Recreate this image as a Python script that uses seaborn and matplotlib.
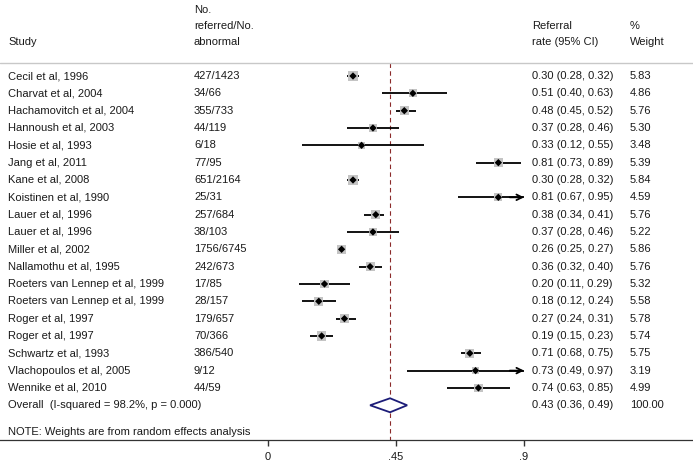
import numpy as np
import matplotlib
matplotlib.use("Agg")
import matplotlib.pyplot as plt
import matplotlib.transforms as mtransforms
import seaborn as sns
import pandas as pd

studies = ["Cecil et al, 1996", "Charvat et al, 2004", "Hachamovitch et al, 2004",
           "Hannoush et al, 2003", "Hosie et al, 1993", "Jang et al, 2011",
           "Kane et al, 2008", "Koistinen et al, 1990", "Lauer et al, 1996",
           "Lauer et al, 1996", "Miller et al, 2002", "Nallamothu et al, 1995",
           "Roeters van Lennep et al, 1999", "Roeters van Lennep et al, 1999",
           "Roger et al, 1997", "Roger et al, 1997", "Schwartz et al, 1993",
           "Vlachopoulos et al, 2005", "Wennike et al, 2010"]
counts = ["427/1423", "34/66", "355/733", "44/119", "6/18", "77/95", "651/2164",
          "25/31", "257/684", "38/103", "1756/6745", "242/673", "17/85", "28/157",
          "179/657", "70/366", "386/540", "9/12", "44/59"]
rate = [0.30, 0.51, 0.48, 0.37, 0.33, 0.81, 0.30, 0.81, 0.38, 0.37, 0.26, 0.36,
        0.20, 0.18, 0.27, 0.19, 0.71, 0.73, 0.74]
lo = [0.28, 0.40, 0.45, 0.28, 0.12, 0.73, 0.28, 0.67, 0.34, 0.28, 0.25, 0.32,
      0.11, 0.12, 0.24, 0.15, 0.68, 0.49, 0.63]
hi = [0.32, 0.63, 0.52, 0.46, 0.55, 0.89, 0.32, 0.95, 0.41, 0.46, 0.27, 0.40,
      0.29, 0.24, 0.31, 0.23, 0.75, 0.97, 0.85]
weights = [5.83, 4.86, 5.76, 5.30, 3.48, 5.39, 5.84, 4.59, 5.76, 5.22, 5.86, 5.76,
           5.32, 5.58, 5.78, 5.74, 5.75, 3.19, 4.99]
overall = (0.43, 0.36, 0.49)
overall_label = "Overall  (I-squared = 98.2%, p = 0.000)"
ticks = [0, 0.45, 0.9]
tick_labels = ["0", ".45", ".9"]

sns.set_style("white")
plt.rcParams["font.family"] = ["Liberation Sans", "DejaVu Sans"]
fs = 8
txt = "#1a1a1a"

n = len(studies)
df = pd.DataFrame({"study": studies, "rate": rate, "lo": lo, "hi": hi,
                   "w": weights, "row": np.arange(n)})

fig = plt.figure(figsize=(6.93, 4.63), dpi=100)
ax = fig.add_axes([0, 23 / 463, 1, 440 / 463])

# scale: 0 at 267.5px, .9 at 524px
ppu = (524 - 267.5) / 0.9
ax.set_xlim(-267.5 / ppu, (693 - 267.5) / ppu)
row_h = 17.33
ax.set_ylim((440 - 76) / row_h, -76 / row_h)

head_y = (62.5 - 76) / row_h
ax.axhline(head_y, color="#c8c8c8", lw=1.0)
ax.vlines(overall[0], head_y, (440 - 76) / row_h, color="#8b2a2a",
          lw=0.8, linestyles=(0, (4, 3)), zorder=1)

# CIs, clipped at the last tick with an arrow
xmax = ticks[-1]
clip_hi = np.minimum(df["hi"], xmax)
ax.hlines(df["row"], df["lo"], clip_hi, color="black", lw=1.3, zorder=2)
for r, h in zip(df["row"], df["hi"]):
    if h > xmax:
        ax.annotate("", xy=(xmax, r), xytext=(xmax - 0.05, r),
                    arrowprops=dict(arrowstyle="->", lw=1.3, color="black",
                                    shrinkA=0, shrinkB=0, mutation_scale=10))

sns.scatterplot(data=df, x="rate", y="row", size="w", sizes=(22, 44),
                marker="s", color="#c4c4c4", edgecolor="none", legend=False,
                ax=ax, zorder=3)
sns.scatterplot(data=df, x="rate", y="row", marker="D", s=14, color="black",
                edgecolor="none", legend=False, ax=ax, zorder=4)

# overall diamond
est, olo, ohi = overall
hh = 7 / row_h
ax.fill([olo, est, ohi, est, olo], [n, n - hh, n, n + hh, n], facecolor="white",
        edgecolor="#1c1c78", lw=1.3, zorder=5)

# text columns
tr = mtransforms.blended_transform_factory(ax.transAxes, ax.transData)
xs, xc, xr, xw = 8 / 693, 194 / 693, 532 / 693, 630 / 693
for i in range(n):
    ax.text(xs, i, studies[i], transform=tr, va="center", fontsize=fs, color=txt)
    ax.text(xc, i, counts[i], transform=tr, va="center", fontsize=fs, color=txt)
    ax.text(xr, i, f"{rate[i]:.2f} ({lo[i]:.2f}, {hi[i]:.2f})", transform=tr,
            va="center", fontsize=fs, color=txt)
    ax.text(xw, i, f"{weights[i]:.2f}", transform=tr, va="center", fontsize=fs, color=txt)
ax.text(xs, n, overall_label, transform=tr, va="center", fontsize=fs, color=txt)
ax.text(xr, n, f"{est:.2f} ({olo:.2f}, {ohi:.2f})", transform=tr, va="center",
        fontsize=fs, color=txt)
ax.text(xw, n, "100.00", transform=tr, va="center", fontsize=fs, color=txt)
ax.text(xs, (432 - 76) / row_h, "NOTE: Weights are from random effects analysis",
        transform=tr, va="center", fontsize=fs, color=txt)

# headers
hy = [(y - 76) / row_h for y in (10, 26, 42)]
ax.text(xs, hy[2], "Study", transform=tr, va="center", fontsize=fs, color=txt)
for yy, s in zip(hy, ["No.", "referred/No.", "abnormal"]):
    ax.text(xc, yy, s, transform=tr, va="center", fontsize=fs, color=txt)
for yy, s in zip(hy[1:], ["Referral", "rate (95% CI)"]):
    ax.text(xr, yy, s, transform=tr, va="center", fontsize=fs, color=txt)
for yy, s in zip(hy[1:], ["%", "Weight"]):
    ax.text(xw, yy, s, transform=tr, va="center", fontsize=fs, color=txt)

# axis
for sp in ["top", "left", "right"]:
    ax.spines[sp].set_visible(False)
ax.spines["bottom"].set_color("#333333")
ax.spines["bottom"].set_linewidth(0.9)
ax.set_yticks([])
ax.set_xticks(ticks)
ax.set_xticklabels(tick_labels)
ax.tick_params(axis="x", direction="out", length=4.5, width=1.0, pad=4,
               labelsize=fs, colors="#333333", labelcolor=txt, bottom=True)
ax.set_xlabel("")
ax.set_ylabel("")

fig.savefig("out.png", dpi=100)
